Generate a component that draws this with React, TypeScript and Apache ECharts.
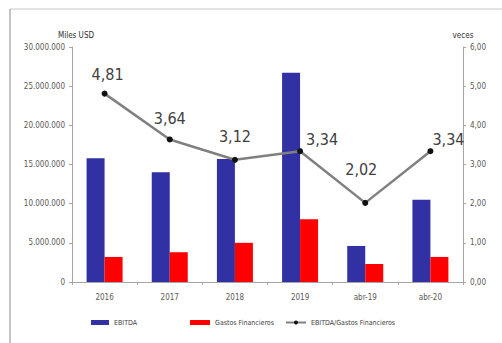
import React, { useEffect, useRef } from "react";
import * as echarts from "echarts";

const categories = ["2016", "2017", "2018", "2019", "abr-19", "abr-20"];
const ebitda = [15800000, 14000000, 15700000, 26700000, 4600000, 10500000];
const gastos = [3200000, 3800000, 5000000, 8000000, 2300000, 3200000];
const ratio = [4.81, 3.64, 3.12, 3.34, 2.02, 3.34];
const leftTicks = [0, 5000000, 10000000, 15000000, 20000000, 25000000, 30000000];

const FONT = "'Liberation Sans Narrow', 'DejaVu Sans Condensed', 'Open Sans', sans-serif";

function fmtThousands(v: number): string {
  if (v === 0) return "0";
  return String(Math.round(v)).replace(/\B(?=(\d{3})+(?!\d))/g, ".");
}

export default function App() {
  const ref = useRef<HTMLDivElement>(null);
  useEffect(() => {
    if (!ref.current) return;
    const chart = echarts.init(ref.current, undefined, { renderer: "svg" });
    const labelPos: any[] = [
      { position: "top", distance: 8, offset: [3, 0] },
      { position: "top", distance: 10 },
      { position: "top", distance: 12 },
      { position: "right", offset: [0, -12], distance: 3 },
      { position: "top", distance: 22, offset: [-4, 0] },
      { position: "right", offset: [-4, -12], distance: 3 },
    ];
    const tickText = { color: "#595959", fontSize: 8, fontFamily: FONT };
    chart.setOption({
      animation: false,
      backgroundColor: "#ffffff",
      textStyle: { fontFamily: FONT },
      grid: { left: 72, right: 39, top: 47, bottom: 61 },
      xAxis: {
        type: "category",
        data: categories,
        axisLine: { lineStyle: { color: "#a6a6a6" } },
        axisTick: { show: true, length: 3, lineStyle: { color: "#a6a6a6" } },
        axisLabel: { ...tickText, margin: 11 },
      },
      yAxis: [
        {
          type: "value",
          min: 0,
          max: leftTicks[leftTicks.length - 1],
          interval: leftTicks[1],
          name: "Miles USD",
          nameLocation: "end",
          nameGap: 8,
          nameTextStyle: { color: "#303030", fontSize: 8, fontFamily: FONT, align: "right", padding: [0, -22, 0, 0] },
          axisLine: { show: true, lineStyle: { color: "#a6a6a6" } },
          axisTick: { show: true, length: 3, lineStyle: { color: "#a6a6a6" } },
          splitLine: { show: false },
          axisLabel: { ...tickText, margin: 7, formatter: (v: number) => fmtThousands(v) },
        },
        {
          type: "value",
          min: 0,
          max: 6,
          interval: 1,
          name: "veces",
          nameLocation: "end",
          nameGap: 8,
          nameTextStyle: { color: "#303030", fontSize: 8, fontFamily: FONT, align: "center" },
          axisLine: { show: true, lineStyle: { color: "#a6a6a6" } },
          axisTick: { show: true, length: 3, lineStyle: { color: "#a6a6a6" } },
          splitLine: { show: false },
          axisLabel: { ...tickText, margin: 7, formatter: (v: number) => v.toFixed(2).replace(".", ",") },
        },
      ],
      legend: [
        {
          left: 86, top: 314, itemWidth: 18, itemHeight: 5, itemGap: 10,
          textStyle: { color: "#404040", fontSize: 7, fontFamily: FONT },
          data: [{ name: "EBITDA", icon: "rect" }],
        },
        {
          left: 185, top: 314, itemWidth: 20, itemHeight: 5, itemGap: 10,
          textStyle: { color: "#404040", fontSize: 7, fontFamily: FONT },
          data: [{ name: "Gastos Financieros", icon: "rect" }],
        },
        {
          left: 280, top: 314, itemWidth: 20, itemHeight: 5, itemGap: 10,
          textStyle: { color: "#404040", fontSize: 7, fontFamily: FONT },
          data: [{ name: "EBITDA/Gastos Financieros" }],
        },
      ],
      series: [
        {
          name: "EBITDA",
          type: "bar",
          data: ebitda,
          yAxisIndex: 0,
          barWidth: 18,
          barGap: "0%",
          itemStyle: { color: "#3131A3" },
        },
        {
          name: "Gastos Financieros",
          type: "bar",
          data: gastos,
          yAxisIndex: 0,
          barWidth: 18,
          barGap: "0%",
          itemStyle: { color: "#FF0000" },
        },
        {
          name: "EBITDA/Gastos Financieros",
          type: "line",
          yAxisIndex: 1,
          data: ratio.map((v, i) => ({
            value: v,
            label: { show: true, ...labelPos[i] },
          })),
          symbol: "circle",
          symbolSize: 6,
          lineStyle: { color: "#808080", width: 2.5 },
          itemStyle: { color: "#111111" },
          label: {
            show: true,
            color: "#404040",
            fontSize: 16,
            fontFamily: FONT,
            formatter: (p: any) => Number(p.value).toFixed(2).replace(".", ","),
          },
        },
      ],
      graphic: [
        { type: "line", shape: { x1: 10, y1: 9, x2: 502, y2: 9 }, style: { stroke: "#c8c8c8", lineWidth: 1 } },
        { type: "line", shape: { x1: 10, y1: 9, x2: 10, y2: 343 }, style: { stroke: "#b0b0b0", lineWidth: 1.5 } },
      ],
    });
    return () => chart.dispose();
  }, []);
  return <div ref={ref} style={{ position: "absolute", left: 0, top: 0, width: 502, height: 343 }} />;
}
